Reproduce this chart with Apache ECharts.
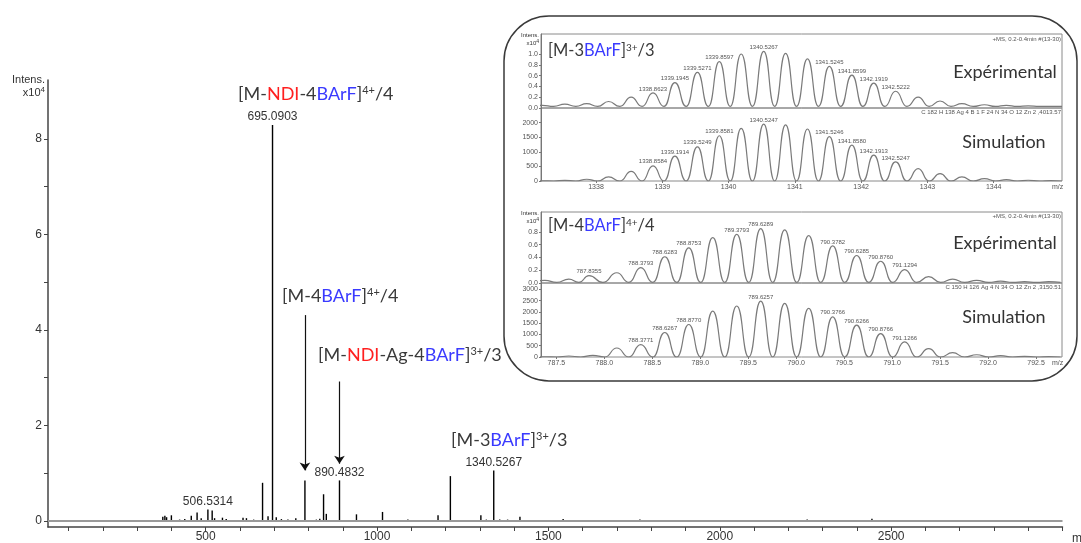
<!DOCTYPE html>
<html><head><meta charset="utf-8">
<script src="https://cdn.jsdelivr.net/npm/echarts@6/dist/echarts.min.js"></script>
<style>html,body{margin:0;padding:0;background:#fff}#c{width:1081px;height:543px}</style>
</head><body><div id="c"></div>
<script>
// ---------- main spectrum (m/z, intensity x10^4) ----------
const mainMz = [285,312,337,357,375,381,386,400,424,439,458,475,487,506.53,519,526,549,560,578,609,619,640,666,682,695.09,706,721,740,763,789.63,823,833,844,852,890.48,940,969,1016,1046,1090,1178,1214,1261,1303,1319,1340.53,1358,1381,1417,1455,1543,1666,1767,1958,2255,2444];
const mainInt = [0.01,0.01,0.01,0.02,0.09,0.11,0.08,0.12,0.03,0.04,0.11,0.18,0.06,0.24,0.22,0.06,0.07,0.04,0.02,0.07,0.06,0.03,0.80,0.10,8.29,0.08,0.04,0.03,0.06,0.85,0.03,0.05,0.56,0.15,0.85,0.14,0.02,0.19,0.02,0.03,0.12,0.94,0.02,0.12,0.03,1.06,0.03,0.03,0.09,0.02,0.04,0.02,0.03,0.02,0.03,0.05];
const mainPeakLabels = ['506.5314','695.0903','890.4832','1340.5267'];
const mainXLabels = [500,1000,1500,2000,2500];
const mainXTicks = [100,200,300,400,500,600,700,800,900,1000,1100,1200,1300,1400,1500,1600,1700,1800,1900,2000,2100,2200,2300,2400,2500,2600,2700,2800,2900,3000];
const mainYLabels = [0,2,4,6,8];
const mainYTicks = [0,1,2,3,4,5,6,7,8];

// ---------- inset 1 : [M-3BArF]3+/3 ----------
const topMz  = [1337.19,1337.53,1337.86,1338.19,1338.53,1338.86,1339.19,1339.53,1339.86,1340.19,1340.53,1340.86,1341.19,1341.52,1341.86,1342.19,1342.52,1342.86,1343.19,1343.52,1343.86,1344.19,1344.52,1344.86];
const topExp = [0.05,0.07,0.08,0.12,0.20,0.28,0.47,0.66,0.86,1.00,1.05,1.01,0.91,0.77,0.61,0.46,0.31,0.20,0.13,0.08,0.06,0.05,0.04,0.03];
const topSim = [5,20,60,140,330,520,850,1170,1550,1800,1950,1920,1780,1520,1230,885,655,425,250,140,80,45,25,12];
const topExpValley = 0.03, topSimValley = 0;
const topExpLabels = ['1338.8623','1339.1945','1339.5271','1339.8597','1340.5267','1341.5245','1341.8599','1342.1919','1342.5222'];
const topSimLabels = ['1338.8584','1339.1914','1339.5249','1339.8581','1340.5247','1341.5246','1341.8580','1342.1913','1342.5247'];
const topXLabels = [1338,1339,1340,1341,1342,1343,1344];
const topExpYLabels = [0,0.2,0.4,0.6,0.8,1.0];
const topSimYLabels = [0,500,1000,1500,2000];

// ---------- inset 2 : [M-4BArF]4+/4 ----------
const botExpMz = [787.38,787.63,787.84,788.13,788.38,788.63,788.88,789.13,789.38,789.63,789.88,790.13,790.38,790.63,790.88,791.13,791.38,791.63,791.88,792.13,792.38,792.63];
const botExp   = [0.04,0.06,0.115,0.16,0.24,0.41,0.55,0.71,0.76,0.85,0.83,0.74,0.58,0.43,0.34,0.21,0.10,0.06,0.04,0.03,0.02,0.02];
const botSimMz = [787.38,787.63,787.88,788.13,788.38,788.63,788.88,789.13,789.38,789.63,789.88,790.13,790.38,790.63,790.88,791.13,791.38,791.63,791.88,792.13,792.38,792.63];
const botSim   = [10,45,75,400,550,1085,1440,2035,2260,2480,2380,2155,1780,1410,1040,670,370,190,100,60,30,15];
const botExpValley = 0.01, botSimValley = 0;
const botExpLabels = ['787.8355','788.3793','788.6283','788.8753','789.3793','789.6289','790.3782','790.6285','790.8760','791.1294'];
const botSimLabels = ['788.3771','788.6267','788.8770','789.6257','790.3766','790.6266','790.8766','791.1266'];
const botXLabels = [787.5,788.0,788.5,789.0,789.5,790.0,790.5,791.0,791.5,792.0,792.5];
const botExpYLabels = [0,0.2,0.4,0.6,0.8];
const botSimYLabels = [0,500,1000,1500,2000,2500,3000];

// ---------- helpers ----------
const FONT = '"Liberation Sans", Arial, sans-serif';
const TFONT = 'Lato, "Open Sans", sans-serif';
function nearestIdx(arr, v){ let b=0; for(let i=1;i<arr.length;i++) if(Math.abs(arr[i]-v)<Math.abs(arr[b]-v)) b=i; return b; }
function labelMap(mz, labels){ const m={}; labels.forEach(t=>{ m[nearestIdx(mz, parseFloat(t))] = t; }); return m; }
const smallLabel = t => ({show:true, position:'top', distance:1, fontSize:6, color:'#555', fontFamily:FONT, formatter:t});
function profile(mz, h, valley, labels){
  const lm = labelMap(mz, labels), pts = [];
  for (let i=0;i<mz.length;i++){
    if (i===0) pts.push([mz[0]-(mz[1]-mz[0])/2, valley]);
    const it = {value:[mz[i], h[i]]};
    if (lm[i]) it.label = smallLabel(lm[i]);
    pts.push(it);
    const r = i<mz.length-1 ? (mz[i]+mz[i+1])/2 : mz[i]+(mz[i]-mz[i-1])/2;
    pts.push([r, valley]);
  }
  return pts;
}
const mainLm = labelMap(mainMz, mainPeakLabels);
const mainData = mainMz.map((m,i)=>{
  const it = {value:[m, mainInt[i]]};
  if (mainLm[i]) it.label = {show:true, position:'top', distance:2, fontSize:12, color:'#333', fontFamily:FONT, formatter:mainLm[i]};
  return it;
});

function insetX(grid, min, max, labels, fmt){
  const hasLab = !!labels;
  return {gridIndex:grid, type:'value', min:min, max:max,
    axisLine:{show:false, onZero:false},
    axisTick:hasLab ? {customValues:labels, length:2, lineStyle:{color:'#777'}} : {show:false},
    axisLabel:hasLab ? {customValues:labels, fontSize:7, color:'#555', margin:3, fontFamily:FONT, formatter:fmt} : {show:false},
    splitLine:{show:false}};
}
function insetY(grid, max, labels, fmt){
  return {gridIndex:grid, type:'value', min:0, max:max,
    axisLine:{show:true, onZero:false, lineStyle:{color:'#777', width:1}},
    axisTick:{customValues:labels, length:2, lineStyle:{color:'#777'}},
    axisLabel:{customValues:labels, fontSize:7, color:'#555', margin:3, fontFamily:FONT, formatter:fmt},
    splitLine:{show:false}};
}
const curve = (xi, data) => ({type:'line', xAxisIndex:xi, yAxisIndex:xi, data:data, smooth:0.55, smoothMonotone:'x',
  showSymbol:true, symbol:'circle', symbolSize:0.01, lineStyle:{color:'#7a7a7a', width:1.2}, itemStyle:{color:'#7a7a7a'}, silent:true, z:3});

const DARK = '#3a3a3a', RED = '#ff1f1f', BLUE = '#3a3aff';
const rich = fs => ({
  d:{fontSize:fs, fontFamily:TFONT, fill:DARK},
  r:{fontSize:fs, fontFamily:TFONT, fill:RED},
  b:{fontSize:fs, fontFamily:TFONT, fill:BLUE},
  s:{fontSize:Math.round(fs*0.62), fontFamily:TFONT, fill:DARK, verticalAlign:'top'}
});
const title = (x, y, txt, fs) => ({type:'text', z:10, style:{x:x, y:y, text:txt, rich:rich(fs), verticalAlign:'middle', align:'left'}});
const plain = (x, y, txt, fs, align, color, font) => ({type:'text', z:10, style:{x:x, y:y, text:txt, fontSize:fs, fontFamily:font||FONT, fill:color||'#333', align:align||'left', verticalAlign:'middle'}});
const intens = (x, y, fs) => ({type:'text', z:10, style:{x:x, y:y, text:'{a|Intens.}\n{a|x10}{s|4}', align:'right', verticalAlign:'middle',
  rich:{a:{fontSize:fs, fontFamily:FONT, fill:'#333', lineHeight:fs+2}, s:{fontSize:Math.round(fs*0.75), fontFamily:FONT, fill:'#333', verticalAlign:'top'}}}});

const chart = echarts.init(document.getElementById('c'));
chart.setOption({
  animation:false,
  backgroundColor:'#fff',
  grid:[
    {left:48, right:18.5, top:80, bottom:14},
    {left:541, top:34, width:521, height:74, show:true, borderColor:'#8a8a8a', borderWidth:1},
    {left:541, top:108, width:521, height:73, show:true, borderColor:'#8a8a8a', borderWidth:1},
    {left:541, top:212, width:521, height:71, show:true, borderColor:'#8a8a8a', borderWidth:1},
    {left:541, top:283, width:521, height:74, show:true, borderColor:'#8a8a8a', borderWidth:1}
  ],
  xAxis:[
    {gridIndex:0, type:'value', min:40, max:3000,
      axisLine:{onZero:false, lineStyle:{color:'#444', width:1.5}},
      axisTick:{customValues:mainXTicks, length:4, lineStyle:{color:'#444'}},
      axisLabel:{customValues:mainXLabels, fontSize:12, color:'#333', margin:4, fontFamily:FONT, formatter:v=>String(Math.round(v))},
      splitLine:{show:false}},
    insetX(1, 1337.17, 1345.03, null),
    insetX(2, 1337.17, 1345.03, topXLabels, v=>String(Math.round(v))),
    insetX(3, 787.34, 792.77, null),
    insetX(4, 787.34, 792.77, botXLabels, v=>v.toFixed(1))
  ],
  yAxis:[
    {gridIndex:0, type:'value', min:-0.125, max:9.23,
      axisLine:{show:true, onZero:false, lineStyle:{color:'#444', width:1.5}},
      axisTick:{customValues:mainYTicks, length:4, lineStyle:{color:'#444'}},
      axisLabel:{customValues:mainYLabels, fontSize:12, color:'#333', margin:6, fontFamily:FONT, formatter:v=>String(Math.round(v))},
      splitLine:{show:false}},
    insetY(1, 1.37, topExpYLabels, v=>v.toFixed(1)),
    insetY(2, 2500, topSimYLabels, v=>String(Math.round(v))),
    insetY(3, 1.11, botExpYLabels, v=>v.toFixed(1)),
    insetY(4, 3280, botSimYLabels, v=>String(Math.round(v)))
  ],
  series:[
    {type:'line', xAxisIndex:0, yAxisIndex:0, data:[], z:1, silent:true,
      markLine:{silent:true, symbol:'none', label:{show:false}, lineStyle:{color:'#9a9a9a', width:2, type:'solid'}, data:[{yAxis:0}]}},
    {type:'bar', xAxisIndex:0, yAxisIndex:0, barWidth:1.4, data:mainData, itemStyle:{color:'#000'}, z:2, silent:true,
      markLine:{silent:true, symbol:['none','arrow'], symbolSize:8, label:{show:false}, lineStyle:{color:'#111', width:1.2, type:'solid'},
        data:[
          [{coord:[mainMz[nearestIdx(mainMz,789.6)], 4.31]}, {coord:[mainMz[nearestIdx(mainMz,789.6)], 1.06]}],
          [{coord:[mainMz[nearestIdx(mainMz,890.5)], 2.92]}, {coord:[mainMz[nearestIdx(mainMz,890.5)], 1.2]}]
        ]}},
    curve(1, profile(topMz, topExp, topExpValley, topExpLabels)),
    curve(2, profile(topMz, topSim, topSimValley, topSimLabels)),
    curve(3, profile(botExpMz, botExp, botExpValley, botExpLabels)),
    curve(4, profile(botSimMz, botSim, botSimValley, botSimLabels))
  ],
  graphic:[
    {type:'rect', z:0, shape:{x:504, y:16, width:573, height:365, r:45}, style:{fill:'none', stroke:'#3a3a3a', lineWidth:1.5}},
    intens(45, 86, 11),
    plain(1072, 539, 'm/z', 12, 'left'),
    title(238, 94, '{d|[M-}{r|NDI}{d|-4}{b|BArF}{d|]}{s|4+}{d|/4}', 18),
    title(282, 296, '{d|[M-4}{b|BArF}{d|]}{s|4+}{d|/4}', 18),
    title(318, 355, '{d|[M-}{r|NDI}{d|-Ag-4}{b|BArF}{d|]}{s|3+}{d|/3}', 18),
    title(451, 440, '{d|[M-3}{b|BArF}{d|]}{s|3+}{d|/3}', 18),
    title(548, 51, '{d|[M-3}{b|BArF}{d|]}{s|3+}{d|/3}', 16.5),
    title(548, 226, '{d|[M-4}{b|BArF}{d|]}{s|4+}{d|/4}', 16.5),
    plain(1005, 72, 'Expérimental', 18, 'center', '#333', TFONT),
    plain(1004, 142, 'Simulation', 18, 'center', '#333', TFONT),
    plain(1005, 243, 'Expérimental', 18, 'center', '#333', TFONT),
    plain(1004, 317, 'Simulation', 18, 'center', '#333', TFONT),
    intens(539, 39, 6),
    intens(539, 217, 6),
    plain(1061, 39, '+MS, 0.2-0.4min #(13-30)', 6, 'right', '#555'),
    plain(1061, 112, 'C 182 H 138 Ag 4 B 1 F 24 N 34 O 12 Zn 2 ,4013.57', 6, 'right', '#555'),
    plain(1061, 216, '+MS, 0.2-0.4min #(13-30)', 6, 'right', '#555'),
    plain(1061, 287, 'C 150 H 126 Ag 4 N 34 O 12 Zn 2 ,3150.51', 6, 'right', '#555'),
    plain(1052, 187, 'm/z', 7, 'left', '#555'),
    plain(1052, 363, 'm/z', 7, 'left', '#555')
  ]
});
</script></body></html>
